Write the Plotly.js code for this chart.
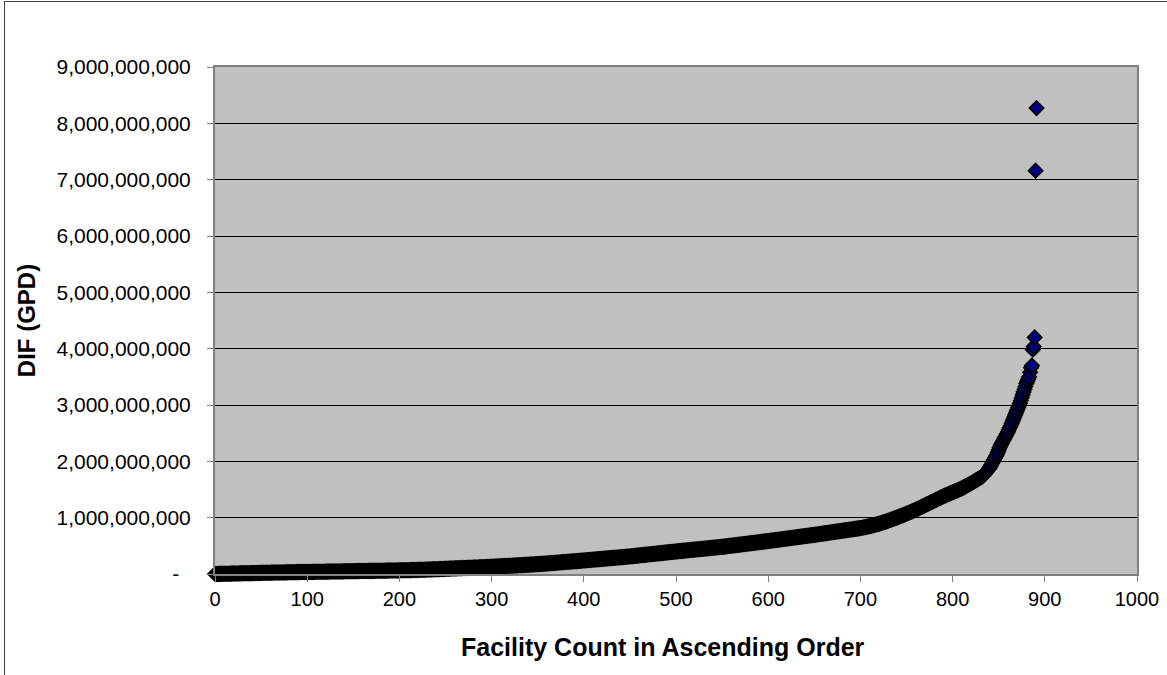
<!DOCTYPE html>
<html>
<head>
<meta charset="utf-8">
<script src="https://cdn.plot.ly/plotly-3.0.1.min.js"></script>
<style>
  html, body { margin: 0; padding: 0; background: #ffffff; overflow: hidden; }
  #chart { position: absolute; left: 0; top: 0; width: 1167px; height: 675px; }
  #frame { position: absolute; left: 4px; top: 1px; width: 1200px; height: 720px;
           border: 1px solid #404040; pointer-events: none; }
</style>
</head>
<body>
<div id="chart"></div>
<div id="frame"></div>
<script>
// DIF (GPD) per facility, sorted ascending, in millions of gallons per day
const difMillions = [
  0,0,1,1,2,2,2,3,3,4,
  4,4,5,5,6,6,6,7,7,8,
  8,8,9,9,10,10,10,11,11,12,
  12,12,13,13,14,14,14,15,15,16,
  16,16,17,17,18,18,18,19,19,20,
  20,20,21,21,21,22,22,22,23,23,
  23,24,24,24,25,25,25,26,26,26,
  27,27,27,28,28,28,29,29,29,30,
  30,30,31,31,31,32,32,32,33,33,
  33,34,34,34,35,35,35,35,36,36,
  36,36,37,37,37,37,38,38,38,39,
  39,39,39,40,40,40,40,41,41,41,
  42,42,42,42,43,43,43,44,44,44,
  44,45,45,45,46,46,46,46,47,47,
  47,48,48,48,48,49,49,49,50,50,
  50,50,51,51,51,51,52,52,52,53,
  53,53,53,54,54,54,55,55,55,55,
  56,56,56,56,57,57,57,57,58,58,
  58,59,59,59,59,60,60,60,61,61,
  61,61,62,62,62,63,63,63,63,64,
  64,64,65,65,66,66,66,67,67,68,
  68,68,69,69,70,70,71,71,72,72,
  73,73,74,74,75,75,76,76,77,78,
  79,79,80,80,81,82,82,83,83,84,
  85,85,86,87,87,88,89,89,90,91,
  92,93,93,94,95,95,96,97,97,98,
  99,100,100,101,102,102,103,104,104,105,
  106,107,107,108,109,109,110,111,111,112,
  113,114,114,115,116,116,117,118,118,119,
  120,121,121,122,123,124,124,125,126,127,
  128,129,130,131,132,132,133,134,135,136,
  137,138,139,140,141,141,142,143,144,145,
  146,147,148,149,150,150,151,152,153,154,
  155,156,157,158,159,160,161,162,163,164,
  165,166,167,168,169,170,171,172,173,174,
  175,176,177,178,180,181,182,183,184,186,
  187,188,189,191,192,193,195,196,197,199,
  200,201,203,204,205,207,208,209,211,212,
  213,214,216,217,218,220,221,222,224,225,
  226,228,229,230,232,233,235,236,237,239,
  240,241,243,244,246,247,249,250,252,253,
  254,256,257,259,260,262,263,264,266,267,
  269,270,272,273,274,276,277,279,280,282,
  283,284,286,287,289,290,292,293,294,296,
  298,299,300,302,303,305,306,308,309,311,
  312,314,316,317,319,321,323,324,326,328,
  330,332,333,335,337,339,340,342,344,345,
  347,349,351,352,354,356,358,359,361,363,
  365,366,368,370,372,373,375,377,379,380,
  382,384,386,387,389,391,393,394,396,398,
  400,402,403,405,407,408,410,411,413,415,
  416,418,420,421,423,425,426,428,430,431,
  433,435,436,438,440,441,443,444,446,448,
  449,451,453,454,456,458,459,461,463,464,
  466,468,469,471,472,474,476,477,479,481,
  482,484,486,488,490,492,494,496,499,501,
  503,505,507,509,511,513,515,517,519,521,
  523,525,527,529,532,534,536,538,540,542,
  544,546,548,550,552,554,556,558,560,562,
  564,566,568,570,573,575,577,579,581,583,
  585,587,589,592,594,596,598,600,603,605,
  607,609,611,614,616,618,620,622,625,627,
  629,631,633,636,638,640,642,644,647,649,
  651,653,655,658,660,662,664,666,669,671,
  673,675,677,680,682,684,686,688,691,693,
  695,697,700,702,705,707,709,712,714,717,
  719,721,724,726,729,731,733,736,738,741,
  743,745,748,750,753,755,757,760,762,765,
  767,769,772,774,777,779,781,784,786,789,
  791,793,796,798,801,803,805,808,810,813,
  815,818,822,825,829,832,836,839,843,846,
  850,854,858,862,866,870,874,878,882,886,
  890,895,901,906,912,917,923,928,934,939,
  945,951,957,963,969,975,981,987,993,999,
  1005,1011,1018,1024,1031,1037,1044,1050,1057,1063,
  1070,1077,1084,1091,1098,1105,1112,1119,1126,1133,
  1140,1148,1156,1164,1172,1180,1188,1196,1204,1212,
  1220,1228,1236,1244,1252,1260,1268,1276,1284,1292,
  1300,1308,1316,1324,1332,1340,1348,1356,1364,1372,
  1380,1387,1394,1401,1408,1415,1422,1429,1436,1443,
  1450,1457,1464,1471,1478,1485,1492,1499,1506,1513,
  1520,1529,1538,1547,1556,1565,1574,1583,1592,1601,
  1610,1620,1630,1640,1650,1660,1670,1680,1690,1700,
  1710,1720,1730,1740,1760,1780,1800,1820,1840,1860,
  1880,1910,1940,1970,2000,2030,2060,2090,2120,2160,
  2200,2240,2280,2310,2340,2370,2400,2430,2460,2490,
  2520,2560,2600,2630,2670,2710,2750,2790,2830,2870,
  2910,2950,2990,3030,3080,3130,3180,3230,3280,3330,
  3380,3420,3460,3500,3580,3660,3700,3980,4040,4200,
  7160,8270
];

// Facility rank (position in ascending order)
const facilityCount = difMillions.map((_, i) => i);
const difGPD = difMillions.map(v => v * 1e6);

const yTickVals = [0, 1e9, 2e9, 3e9, 4e9, 5e9, 6e9, 7e9, 8e9, 9e9];
const yTickText = ['-\u00a0\u00a0', '1,000,000,000', '2,000,000,000', '3,000,000,000', '4,000,000,000',
                   '5,000,000,000', '6,000,000,000', '7,000,000,000', '8,000,000,000', '9,000,000,000'];
const xTickVals = [0, 100, 200, 300, 400, 500, 600, 700, 800, 900, 1000];
const xTitle = 'Facility Count in Ascending Order';
const yTitle = 'DIF (GPD)';

const FONT = 'Liberation Sans, Arial, sans-serif';

const trace = {
  type: 'scatter',
  mode: 'markers',
  x: facilityCount,
  y: difGPD,
  cliponaxis: false,
  marker: {
    symbol: 'diamond',
    size: 11,
    color: '#000080',
    line: { color: '#000000', width: 1.6 }
  },
  hoverinfo: 'x+y',
  showlegend: false
};

const layout = {
  width: 1167,
  height: 675,
  margin: { l: 215, r: 30, t: 67, b: 101 },
  paper_bgcolor: '#ffffff',
  plot_bgcolor: '#C0C0C0',
  font: { family: FONT, color: '#000000' },
  xaxis: {
    range: [0, 1000],
    tickvals: xTickVals,
    ticktext: xTickVals.map(String),
    ticks: 'outside',
    ticklen: 6,
    tickwidth: 1,
    tickcolor: '#808080',
    tickfont: { family: FONT, size: 20, color: '#000000' },
    showline: true,
    linecolor: '#808080',
    linewidth: 2,
    mirror: true,
    showgrid: false,
    zeroline: false
  },
  yaxis: {
    range: [0, 9e9],
    tickvals: yTickVals,
    ticktext: yTickText,
    ticks: 'outside',
    ticklen: 6,
    tickwidth: 1,
    tickcolor: '#808080',
    tickfont: { family: FONT, size: 21, color: '#000000' },
    ticklabelstandoff: 12,
    showline: true,
    linecolor: '#808080',
    linewidth: 2,
    mirror: true,
    showgrid: true,
    gridcolor: '#000000',
    gridwidth: 1,
    zeroline: false,
    title: {
      text: yTitle,
      font: { family: FONT, size: 24, weight: 'bold', color: '#000000' },
      standoff: 14
    }
  },
  annotations: [{
    text: xTitle,
    xref: 'paper', yref: 'paper',
    x: 0.486, y: -0.144,
    xanchor: 'center', yanchor: 'middle',
    showarrow: false,
    font: { family: FONT, size: 25, weight: 'bold', color: '#000000' }
  }]
};

Plotly.newPlot('chart', [trace], layout, { displayModeBar: false, staticPlot: false });
</script>
</body>
</html>
